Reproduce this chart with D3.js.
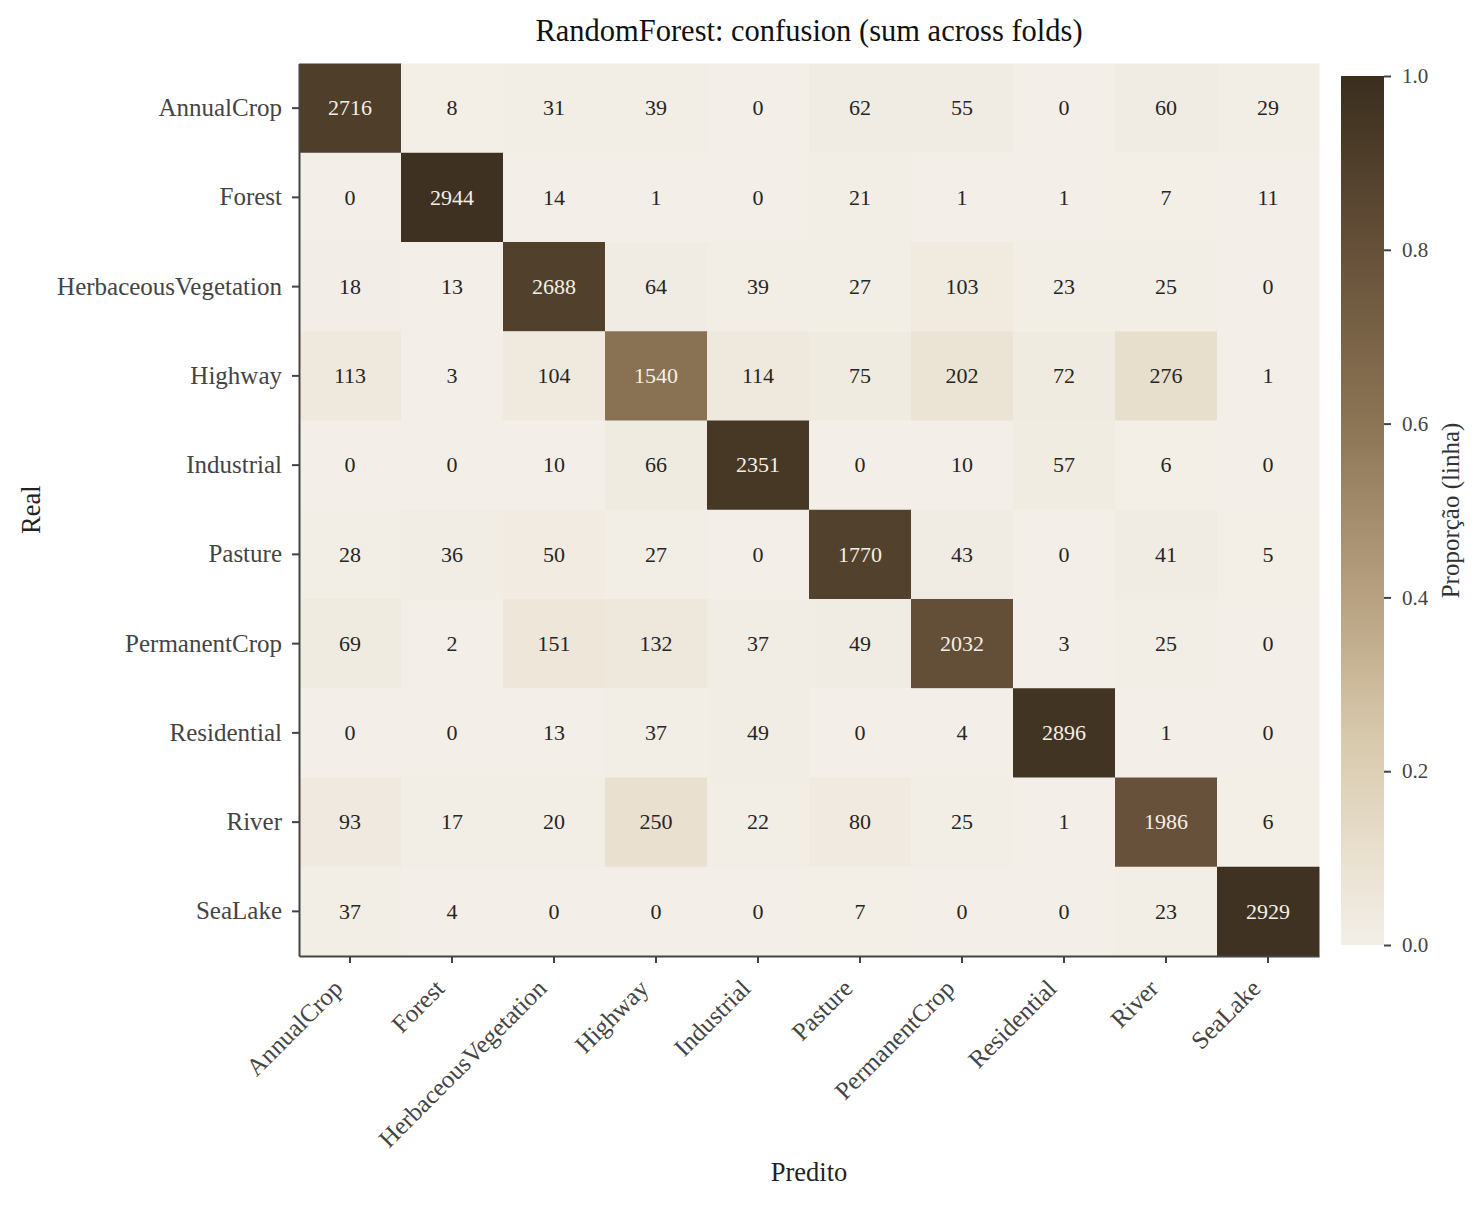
<!DOCTYPE html>
<html>
<head>
<meta charset="utf-8">
<script src="https://cdn.jsdelivr.net/npm/d3@7"></script>
<style>
  body { margin: 0; background: #fff; }
  svg { font-family: "Liberation Serif", "DejaVu Serif", serif; }
</style>
</head>
<body>
<div id="chart"></div>
<script>
const classes = ["AnnualCrop", "Forest", "HerbaceousVegetation", "Highway", "Industrial",
                 "Pasture", "PermanentCrop", "Residential", "River", "SeaLake"];

// rows = real, columns = predicted
const rowAnnualCrop    = [2716, 8, 31, 39, 0, 62, 55, 0, 60, 29];
const rowForest        = [0, 2944, 14, 1, 0, 21, 1, 1, 7, 11];
const rowHerbaceous    = [18, 13, 2688, 64, 39, 27, 103, 23, 25, 0];
const rowHighway       = [113, 3, 104, 1540, 114, 75, 202, 72, 276, 1];
const rowIndustrial    = [0, 0, 10, 66, 2351, 0, 10, 57, 6, 0];
const rowPasture       = [28, 36, 50, 27, 0, 1770, 43, 0, 41, 5];
const rowPermanentCrop = [69, 2, 151, 132, 37, 49, 2032, 3, 25, 0];
const rowResidential   = [0, 0, 13, 37, 49, 0, 4, 2896, 1, 0];
const rowRiver         = [93, 17, 20, 250, 22, 80, 25, 1, 1986, 6];
const rowSeaLake       = [37, 4, 0, 0, 0, 7, 0, 0, 23, 2929];

const counts = [rowAnnualCrop, rowForest, rowHerbaceous, rowHighway, rowIndustrial,
                rowPasture, rowPermanentCrop, rowResidential, rowRiver, rowSeaLake];

const cbTicks = [0, 0.2, 0.4, 0.6, 0.8, 1.0];

const W = 1484, H = 1206;
const plot = {left: 299, right: 1319, top: 63.5, bottom: 956};
const cb = {left: 1341, right: 1384, top: 76, bottom: 945};

const svg = d3.select("#chart")
    .append("svg")
    .attr("width", W)
    .attr("height", H);

const xScale = d3.scaleBand().domain(classes).range([plot.left, plot.right]);
const yScale = d3.scaleBand().domain(classes).range([plot.top, plot.bottom]);

// brown sequential map, light at 0, dark at 1
const color = d3.scaleLinear()
    .domain([0, 0.1, 0.25, 0.4, 0.6, 0.8, 0.9, 1.0])
    .range(["#f3efe8", "#e9e0cf", "#d6c7aa", "#b7a180", "#8c7555", "#665039", "#4f3f2b", "#3b2e1f"])
    .clamp(true);

const cells = [];
counts.forEach((row, i) => {
    const total = d3.sum(row);
    row.forEach((v, j) => {
        cells.push({real: classes[i], pred: classes[j], value: v, frac: v / total});
    });
});

svg.append("g")
    .selectAll("rect")
    .data(cells)
    .enter()
    .append("rect")
    .attr("x", d => xScale(d.pred))
    .attr("y", d => yScale(d.real))
    .attr("width", xScale.bandwidth() + 0.5)
    .attr("height", yScale.bandwidth() + 0.5)
    .attr("fill", d => color(d.frac));

svg.append("g")
    .selectAll("text")
    .data(cells)
    .enter()
    .append("text")
    .attr("x", d => xScale(d.pred) + xScale.bandwidth() / 2)
    .attr("y", d => yScale(d.real) + yScale.bandwidth() / 2)
    .attr("dy", "0.33em")
    .attr("text-anchor", "middle")
    .attr("font-size", 22)
    .attr("fill", d => d.frac > 0.5 ? "#f4efe7" : "#262626")
    .text(d => d.value);

// axes
const yAxis = svg.append("g")
    .attr("transform", `translate(${plot.left},0)`)
    .call(d3.axisLeft(yScale).tickSize(7).tickPadding(10).tickSizeOuter(0));

const xAxis = svg.append("g")
    .attr("transform", `translate(0,${plot.bottom})`)
    .call(d3.axisBottom(xScale).tickSize(7).tickSizeOuter(0));

xAxis.selectAll(".tick text")
    .attr("x", 0)
    .attr("y", 0)
    .attr("dy", null)
    .attr("text-anchor", "end")
    .attr("transform", "translate(-6,34) rotate(-45)");

[xAxis, yAxis].forEach(ax => {
    ax.select(".domain").attr("stroke", "#444").attr("stroke-width", 2);
    ax.selectAll(".tick line").attr("stroke", "#444").attr("stroke-width", 2);
    ax.selectAll(".tick text")
        .attr("fill", "#444")
        .attr("font-size", 25)
        .attr("font-family", "Liberation Serif");
});

// colorbar
const cbScale = d3.scaleLinear().domain([0, 1]).range([cb.bottom, cb.top]);

const grad = svg.append("defs")
    .append("linearGradient")
    .attr("id", "cbgrad")
    .attr("x1", "0").attr("y1", "1")
    .attr("x2", "0").attr("y2", "0");

grad.selectAll("stop")
    .data(d3.range(0, 1.0001, 0.02))
    .enter()
    .append("stop")
    .attr("offset", d => d)
    .attr("stop-color", d => color(d));

svg.append("rect")
    .attr("x", cb.left)
    .attr("y", cb.top)
    .attr("width", cb.right - cb.left)
    .attr("height", cb.bottom - cb.top)
    .attr("fill", "url(#cbgrad)");

const cbAxis = svg.append("g")
    .attr("transform", `translate(${cb.right},0)`)
    .call(d3.axisRight(cbScale).tickValues(cbTicks).tickFormat(d3.format(".1f"))
        .tickSize(7).tickPadding(11).tickSizeOuter(0));

cbAxis.select(".domain").remove();
cbAxis.selectAll(".tick line").attr("stroke", "#444").attr("stroke-width", 2);
cbAxis.selectAll(".tick text")
    .attr("fill", "#444")
    .attr("font-size", 21)
    .attr("font-family", "Liberation Serif");

svg.append("text")
    .attr("transform", `translate(1459,${(cb.top + cb.bottom) / 2}) rotate(-90)`)
    .attr("text-anchor", "middle")
    .attr("font-size", 25)
    .attr("fill", "#333")
    .text("Proporção (linha)");

// titles
svg.append("text")
    .attr("x", (plot.left + plot.right) / 2)
    .attr("y", 41)
    .attr("text-anchor", "middle")
    .attr("font-size", 30.5)
    .attr("fill", "#111")
    .text("RandomForest: confusion (sum across folds)");

svg.append("text")
    .attr("x", (plot.left + plot.right) / 2)
    .attr("y", 1181)
    .attr("text-anchor", "middle")
    .attr("font-size", 26.5)
    .attr("fill", "#222")
    .text("Predito");

svg.append("text")
    .attr("transform", `translate(40,${(plot.top + plot.bottom) / 2}) rotate(-90)`)
    .attr("text-anchor", "middle")
    .attr("font-size", 26.5)
    .attr("fill", "#222")
    .text("Real");
</script>
</body>
</html>
